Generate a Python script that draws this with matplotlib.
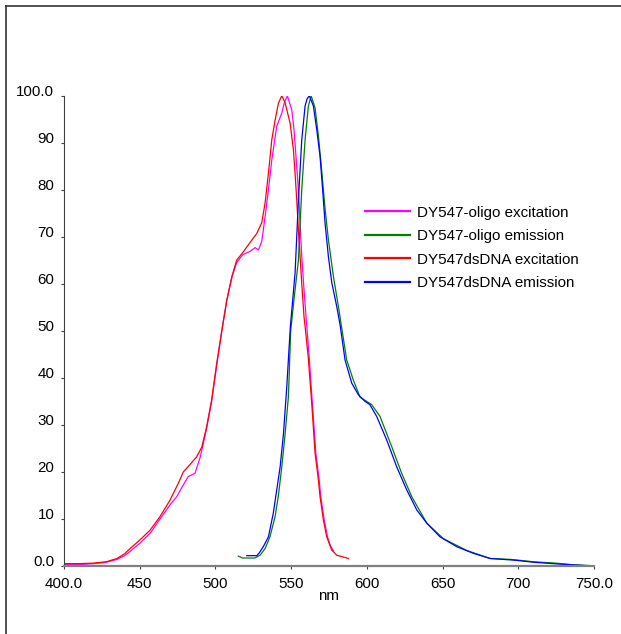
import matplotlib
matplotlib.use('Agg')
import matplotlib.pyplot as plt
from matplotlib.lines import Line2D

plt.rcParams['font.family'] = ['Liberation Sans', 'DejaVu Sans']

# --- DATA ---
oligo_exc_x = [400, 410, 420, 428, 435, 440, 444, 450, 457, 463, 470, 474.4, 478, 482, 486.5,
               490, 494, 497.5, 501, 504.2, 507.5, 511, 514, 518, 522.9, 526.2, 528.4, 530.6,
               532.8, 535, 537.2, 540.5, 543.8, 545.5, 547.5, 550.4, 551.9, 553.2, 554.8, 555.9,
               557, 558.5, 560.3, 561.8, 564, 566.3, 568.5, 569.6, 571.8, 574, 576, 578]
oligo_exc_y = [0.3, 0.3, 0.5, 0.8, 1.4, 2.2, 3.2, 4.8, 7.0, 9.8, 13.0, 14.7, 16.8, 19.0, 19.7,
               23.2, 29.0, 35.0, 43.0, 50.0, 56.5, 61.5, 64.5, 66.2, 66.9, 67.7, 67.2, 69.0,
               74.3, 80.0, 86.3, 93.5, 96.3, 98.5, 100.0, 97.0, 92.8, 87.1, 80.0, 72.9,
               65.8, 58.7, 51.0, 45.0, 34.6, 24.0, 18.3, 14.7, 9.8, 6.2, 4.2, 3.2]

oligo_em_x = [515.1, 518, 526, 529.5, 532.8, 536, 539.4, 541.6, 543.8, 546, 548.2, 549.7, 552,
              554.8, 557, 559.2, 561.4, 563.2, 565.8, 568, 570.2, 572.4, 574.6, 577.9, 581.2,
              583.6, 586.7, 591, 595.5, 599.9, 603.2, 608.7, 616.4, 623, 629.7, 639.6, 650.6,
              666, 681.4, 695, 710, 725, 735, 747]
oligo_em_y = [2.1, 1.7, 1.7, 2.3, 3.7, 6.2, 10.5, 15.0, 21.0, 28.0, 36.0, 50.0, 57.0,
              65.0, 80.0, 90.6, 97.8, 100.0, 97.4, 91.5, 84.0, 76.0, 69.4, 61.6, 55.2,
              50.2, 43.8, 39.6, 35.9, 35.0, 34.3, 31.8, 25.4, 19.7, 14.7, 9.1, 5.8,
              3.3, 1.6, 1.4, 0.9, 0.6, 0.3, 0.1]

ds_exc_x = [400, 410, 419, 428, 435, 440, 443.6, 450, 456.8, 463.4, 470, 475.5, 478.8, 483,
            487.6, 491, 494.2, 497.5, 500.8, 504.2, 507.5, 510.8, 514, 518.4, 522.9, 527.3,
            530.6, 532.8, 535, 537.2, 539.4, 541.6, 543.8, 546, 549.3, 551.5, 552.6, 553.7,
            554.8, 555.9, 557, 558.5, 559.2, 561.4, 563.6, 565.8, 568, 569.1, 571.3, 573.5,
            576.8, 580.1, 584.5, 587.8]
ds_exc_y = [0.5, 0.5, 0.6, 0.9, 1.6, 2.6, 3.7, 5.5, 7.6, 10.5, 14.0, 17.6, 20.0, 21.5,
            23.2, 25.3, 29.6, 35.3, 43.0, 50.0, 56.5, 61.5, 65.0, 66.8, 68.8, 70.7,
            73.0, 77.2, 83.5, 90.6, 94.8, 98.4, 100.0, 98.5, 94.2, 88.5, 83.5, 77.8,
            71.4, 65.8, 60.1, 53.0, 51.0, 44.0, 34.6, 24.0, 18.3, 14.7, 9.8, 6.2,
            3.4, 2.3, 1.9, 1.6]

ds_em_x = [520.7, 527.3, 529, 531.6, 535, 538.2, 540.5, 542.7, 544.9, 547.1, 549.5, 552.6,
           554.8, 557, 559.2, 560.5, 562, 564.7, 566.9, 569.1, 570.8, 572.4, 574.6, 576.8,
           580.1, 582.3, 585.6, 590, 594.4, 598.8, 602, 606.5, 613.1, 619.7, 626.3, 633,
           639.6, 648.3, 659.4, 670.3, 681.4, 699, 710, 727.5, 738, 749]
ds_em_y = [2.2, 2.2, 2.8, 4.1, 6.2, 11.2, 16.2, 21.0, 28.0, 38.0, 51.0, 62.3,
           77.8, 90.6, 97.8, 99.3, 100.0, 97.8, 92.8, 87.1, 80.0, 72.9, 65.8, 60.3,
           55.2, 51.3, 43.8, 38.9, 36.4, 35.0, 34.3, 31.8, 26.8, 21.1, 16.2, 11.9,
           9.1, 6.2, 4.1, 2.7, 1.6, 1.2, 0.8, 0.4, 0.2, 0.0]

labels = ['DY547-oligo excitation', 'DY547-oligo emission',
          'DY547dsDNA excitation', 'DY547dsDNA emission']
colors = ['#ff00ff', '#008000', '#ff0000', '#0000ff']

xticks = [400, 450, 500, 550, 600, 650, 700, 750]
xtick_labels = ['400.0', '450', '500', '550', '600', '650', '700', '750.0']
yticks = [0, 10, 20, 30, 40, 50, 60, 70, 80, 90, 100]
ytick_labels = ['0.0', '10', '20', '30', '40', '50', '60', '70', '80', '90', '100.0']

FS = 10.9

# --- PLOT ---
fig = plt.figure(figsize=(6.21, 6.34), dpi=100)
ax = fig.add_axes([0.10306, 0.10726, 0.85346, 0.74180])

series = [(oligo_exc_x, oligo_exc_y), (oligo_em_x, oligo_em_y),
          (ds_exc_x, ds_exc_y), (ds_em_x, ds_em_y)]
for (xs, ys), lab, col in zip(series, labels, colors):
    ax.plot(xs, ys, color=col, lw=0.9, label=lab)

ax.set_xlim(400, 750)
ax.set_ylim(0, 100)
ax.set_xticks(xticks)
ax.set_xticklabels(xtick_labels)
ax.set_yticks(yticks)
ax.set_yticklabels(ytick_labels)

for s in ['top', 'right']:
    ax.spines[s].set_visible(False)
ax.spines['left'].set_color('#404040')
ax.spines['left'].set_linewidth(0.8)
ax.spines['bottom'].set_color('#808080')
ax.spines['bottom'].set_linewidth(1.6)

ax.tick_params(axis='both', direction='out', length=2.5, width=0.8,
               color='#404040', labelsize=FS, labelcolor='black')
ax.tick_params(axis='x', pad=5.5)
ax.tick_params(axis='y', pad=4.5)
for lbl in ax.get_yticklabels():
    lbl.set_verticalalignment('baseline')

ax.set_xlabel('nm', fontsize=FS, va='baseline')
ax.xaxis.set_label_coords(0.5, -0.0715)

leg = ax.legend(loc='upper left', bbox_to_anchor=(0.568, 0.766), frameon=False,
                fontsize=FS, borderpad=0, borderaxespad=0, handlelength=2.95,
                handletextpad=0.5, labelspacing=0.62)
for h in leg.get_lines():
    h.set_linewidth(1.6)

# page frame (left and top edges)
fig.add_artist(Line2D([0.0092, 0.0092], [0, 0.991], transform=fig.transFigure,
                      color='#333333', lw=1.2))
fig.add_artist(Line2D([0.0092, 1.0], [0.991, 0.991], transform=fig.transFigure,
                      color='#333333', lw=1.2))

fig.savefig('out.png', dpi=100)
